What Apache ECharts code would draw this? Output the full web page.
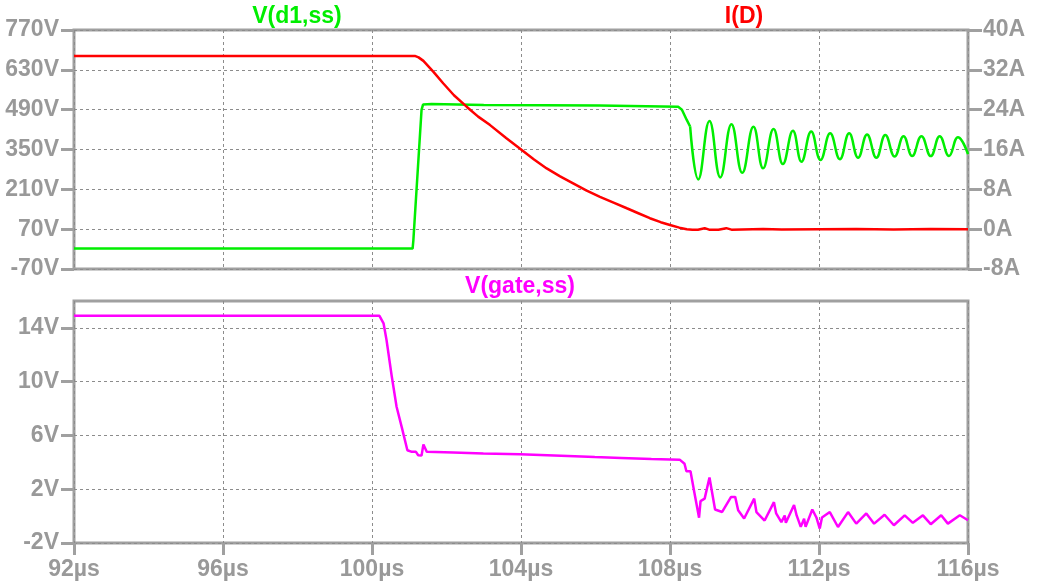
<!DOCTYPE html>
<html>
<head>
<meta charset="utf-8">
<script src="https://cdn.jsdelivr.net/npm/echarts@6/dist/echarts.min.js"></script>
<style>
html,body{margin:0;padding:0;background:#fff;}
#chart{width:1038px;height:586px;}
</style>
</head>
<body>
<div id="chart"></div>
<script>
// ---- data (time in µs) ----
const xTicks = [92, 96, 100, 104, 108, 112, 116];
const topLeftTicks = [-70, 70, 210, 350, 490, 630, 770];
const topRightTicks = [-8, 0, 8, 16, 24, 32, 40];
const bottomTicks = [-2, 2, 6, 10, 14];

// V(d1,ss) – switching edge part
const vd1Time = [92, 101.09, 101.11, 101.33, 101.37, 101.42, 101.6, 103.0, 106.1, 106.15, 108.22, 108.32, 108.45, 108.54];
const vd1Volt = [2, 2, 30, 489, 508, 514, 510, 506, 505, 500, 500, 490, 454, 431];
// V(d1,ss) – ringing part (peaks / troughs)
const vd1RingTime = [108.54, 108.76, 109.06, 109.35, 109.65, 109.94, 110.24, 110.50, 110.78, 111.03, 111.30, 111.53, 111.79, 112.04, 112.30, 112.56, 112.81, 113.05, 113.29, 113.54, 113.78, 114.03, 114.27, 114.50, 114.75, 115.00, 115.24, 115.49, 115.73, 116.0];
const vd1RingVolt = [431, 245, 450, 252, 439, 268, 430, 284, 422, 299, 416, 307, 413, 313, 407, 316, 407, 321, 403, 321, 401, 325, 397, 327, 397, 327, 397, 327, 393, 334];

// I(D)
const idTime = [92, 101.15, 101.25, 101.38, 101.65, 101.91, 102.2, 102.54, 102.85, 103.17, 103.6, 104.02, 104.35, 104.69, 105.05, 105.40, 105.75, 106.12, 106.5, 106.84, 107.15, 107.46, 107.75, 108.0, 108.25, 108.45, 108.6, 108.75, 108.93, 109.05, 109.3, 109.51, 109.65, 110.5, 111.0, 112.0, 113.0, 114.0, 115.0, 116.0];
const idAmp = [34.8, 34.8, 34.5, 33.8, 31.6, 29.3, 26.9, 24.6, 22.6, 20.9, 18.3, 15.9, 14.0, 12.2, 10.6, 9.2, 7.8, 6.5, 5.3, 4.2, 3.2, 2.2, 1.4, 0.85, 0.3, 0.0, -0.1, -0.1, 0.2, -0.1, -0.1, 0.2, -0.1, 0.05, -0.05, 0.0, 0.05, -0.05, 0.05, 0.0];

// V(gate,ss)
const gateTime = [92, 100.20, 100.31, 100.39, 100.53, 100.66, 100.80, 100.95, 101.07, 101.18, 101.24, 101.33, 101.38, 101.47, 102.18, 102.99, 103.97, 105.26, 105.98, 106.69, 107.5, 108.26, 108.39, 108.44, 108.55, 108.66, 108.78, 108.82, 108.93, 109.06, 109.21, 109.40, 109.64, 109.75, 109.83, 109.99, 110.26, 110.32, 110.54, 110.79, 110.85, 110.99, 111.08, 111.11, 111.33, 111.40, 111.51, 111.60, 111.64, 111.82, 111.93, 112.02, 112.08, 112.29, 112.51, 112.78, 113.0, 113.27, 113.48, 113.76, 114.01, 114.30, 114.52, 114.79, 115.0, 115.28, 115.46, 115.78, 116.0];
const gateVolt = [14.9, 14.9, 14.34, 13.1, 10.4, 8.13, 6.6, 4.9, 4.78, 4.78, 4.53, 4.5, 5.33, 4.78, 4.73, 4.66, 4.6, 4.48, 4.4, 4.33, 4.25, 4.2, 3.9, 3.34, 3.34, 1.67, -0.12, 1.12, 1.3, 2.87, 0.49, 0.31, 1.43, 1.43, 0.44, -0.18, 1.3, 0.3, -0.33, 1.04, 0.2, -0.45, 0.05, -0.5, 0.83, 0.05, -0.8, -0.2, -0.8, 0.49, -0.1, -0.93, -0.1, 0.3, -0.81, 0.3, -0.56, 0.2, -0.56, 0.1, -0.68, 0.06, -0.5, 0.06, -0.6, 0.06, -0.56, 0.06, -0.31];

// ---- styles ----
const GRAY = '#999999';
const FRAME = '#a0a0a0';
const FONT = "'Liberation Sans', Arial, sans-serif";
const GREEN = '#00ee00', RED = '#ff0000', MAGENTA = '#ff00ff';

function pairs(t, v) { return t.map((x, i) => [x, v[i]]); }

const labelStyle = { color: GRAY, fontSize: 23, fontWeight: 'bold', fontFamily: FONT };
const splitStyle = { show: true, lineStyle: { color: '#8c8c8c', width: 1, type: [3, 3] } };

function xAxis(gridIndex, showLabels) {
  return {
    type: 'value', gridIndex, min: 92, max: 116, interval: 4, position: 'bottom',
    axisLine: { show: false, onZero: false },
    axisTick: { show: showLabels, inside: false, length: 12, lineStyle: { color: FRAME, width: 3 } },
    axisLabel: Object.assign({ show: showLabels, margin: 15, formatter: '{value}µs' }, labelStyle),
    splitLine: splitStyle
  };
}

const chart = echarts.init(document.getElementById('chart'), null, { renderer: 'canvas' });
chart.setOption({
  animation: false,
  backgroundColor: '#ffffff',
  grid: [
    { left: 74, right: 70, top: 30, height: 239, show: true, borderColor: FRAME, borderWidth: 3, backgroundColor: 'transparent' },
    { left: 74, right: 70, top: 301, height: 242, show: true, borderColor: FRAME, borderWidth: 3, backgroundColor: 'transparent' }
  ],
  xAxis: [xAxis(0, false), xAxis(1, true)],
  yAxis: [
    {
      type: 'value', gridIndex: 0, position: 'left', min: -70, max: 770, interval: 140,
      axisLine: { show: false, onZero: false },
      axisTick: { show: true, inside: false, length: 13, customValues: topLeftTicks, lineStyle: { color: FRAME, width: 3 } },
      axisLabel: Object.assign({ margin: 15, customValues: topLeftTicks, formatter: '{value}V' }, labelStyle),
      splitLine: splitStyle
    },
    {
      type: 'value', gridIndex: 0, position: 'right', min: -8, max: 40, interval: 8,
      axisLine: { show: false, onZero: false },
      axisTick: { show: true, inside: false, length: 14, lineStyle: { color: FRAME, width: 3 } },
      axisLabel: Object.assign({ margin: 15, formatter: '{value}A' }, labelStyle),
      splitLine: { show: false }
    },
    {
      type: 'value', gridIndex: 1, position: 'left', min: -2, max: 16, interval: 4,
      axisLine: { show: false, onZero: false },
      axisTick: { show: true, inside: false, length: 13, customValues: bottomTicks, lineStyle: { color: FRAME, width: 3 } },
      axisLabel: Object.assign({ margin: 15, customValues: bottomTicks, formatter: '{value}V' }, labelStyle),
      splitLine: splitStyle
    }
  ],
  graphic: [
    { type: 'text', x: 297, y: 17, style: { text: 'V(d1,ss)', fill: GREEN, font: 'bold 23px ' + FONT, textAlign: 'center', textVerticalAlign: 'middle' } },
    { type: 'text', x: 744, y: 17, style: { text: 'I(D)', fill: RED, font: 'bold 23px ' + FONT, textAlign: 'center', textVerticalAlign: 'middle' } },
    { type: 'text', x: 520, y: 287, style: { text: 'V(gate,ss)', fill: MAGENTA, font: 'bold 23px ' + FONT, textAlign: 'center', textVerticalAlign: 'middle' } }
  ],
  series: [
    { name: 'V(d1,ss)', type: 'line', xAxisIndex: 0, yAxisIndex: 0, data: pairs(vd1Time, vd1Volt), showSymbol: false, lineStyle: { color: GREEN, width: 2.5 }, itemStyle: { color: GREEN } },
    { name: 'V(d1,ss) ring', type: 'line', xAxisIndex: 0, yAxisIndex: 0, data: pairs(vd1RingTime, vd1RingVolt), smooth: 0.45, showSymbol: false, lineStyle: { color: GREEN, width: 2.5 }, itemStyle: { color: GREEN } },
    { name: 'I(D)', type: 'line', xAxisIndex: 0, yAxisIndex: 1, data: pairs(idTime, idAmp), showSymbol: false, lineStyle: { color: RED, width: 2.5 }, itemStyle: { color: RED } },
    { name: 'V(gate,ss)', type: 'line', xAxisIndex: 1, yAxisIndex: 2, data: pairs(gateTime, gateVolt), showSymbol: false, lineStyle: { color: MAGENTA, width: 2.5 }, itemStyle: { color: MAGENTA } }
  ]
});
</script>
</body>
</html>
